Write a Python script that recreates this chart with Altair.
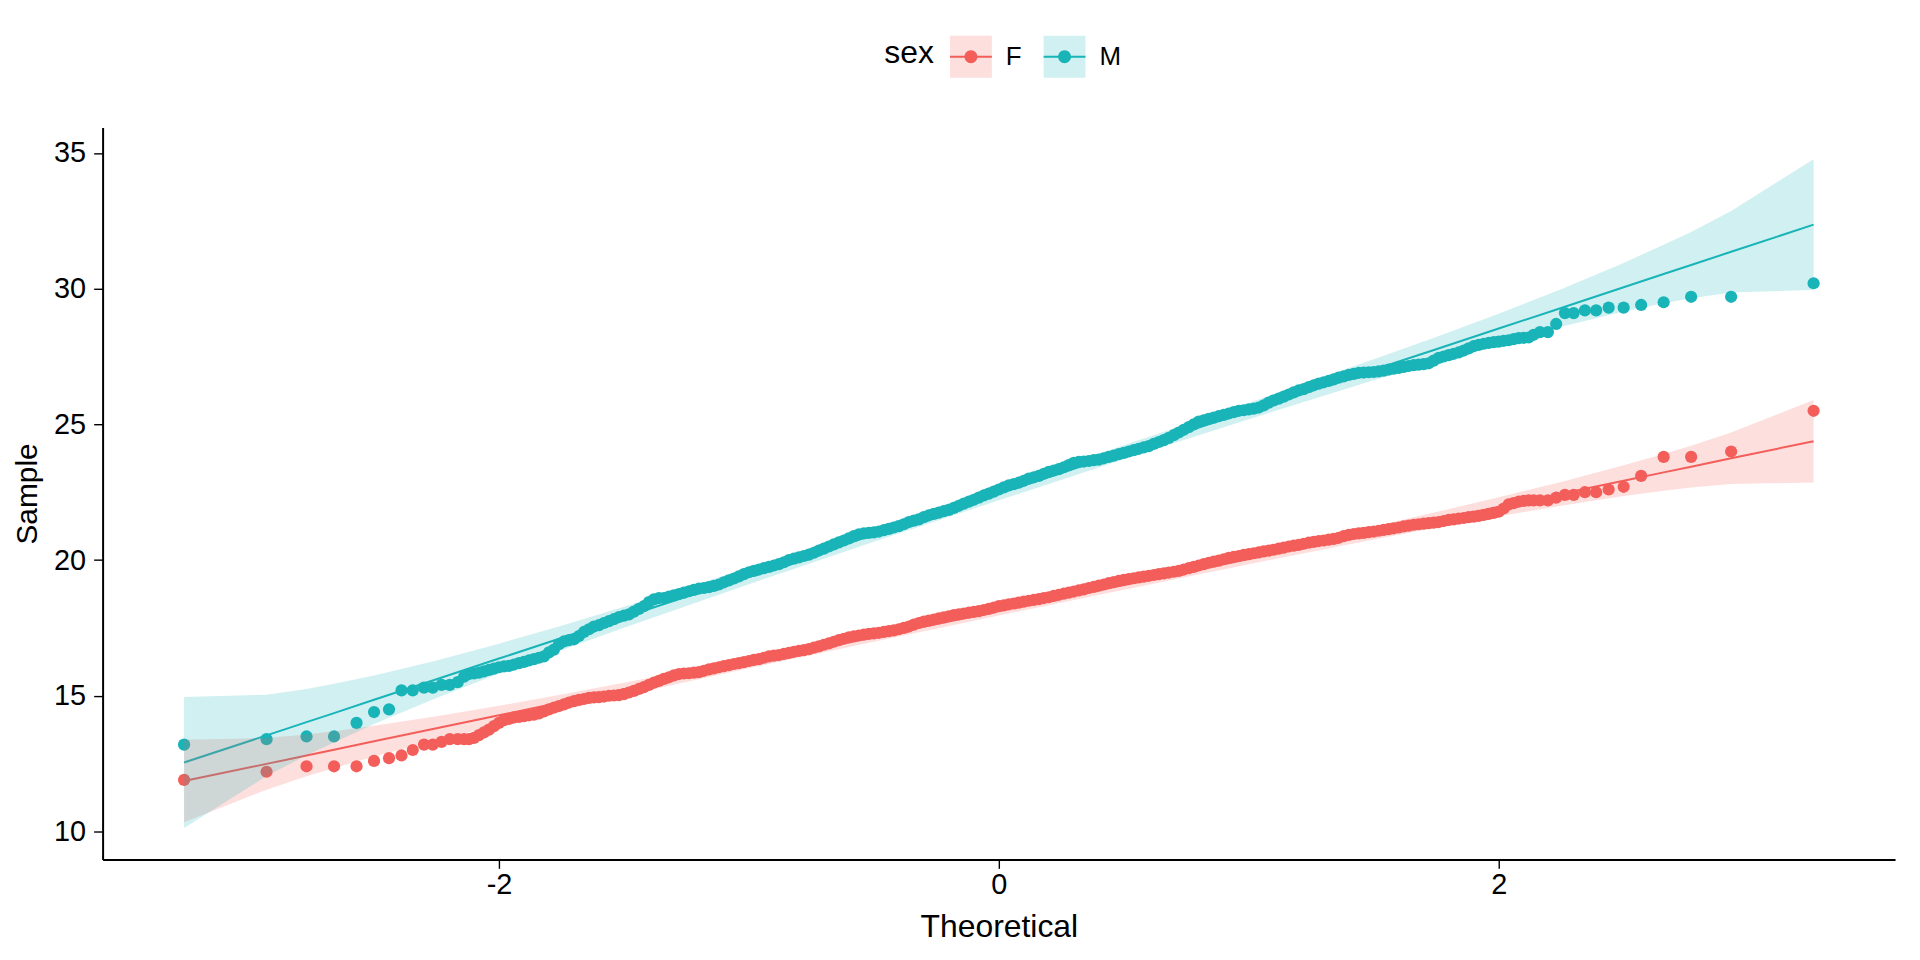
import altair as alt
import pandas as pd

# ---------------- data ----------------
SEXES = ["F", "M"]
F_COL = "#F35E5A"
M_COL = "#19B4B8"

# theoretical quantiles of the plotted points (same for both groups)
THEO_LOW = [-3.26, -2.93, -2.77, -2.66, -2.57, -2.50, -2.44, -2.39, -2.345,
            -2.30, -2.265, -2.23, -2.197, -2.165, -2.14]
THEO_MID = [
    -2.12, -2.10, -2.08, -2.06, -2.04, -2.02, -2.00, -1.98, -1.96, -1.94,
    -1.92, -1.90, -1.88, -1.86, -1.84, -1.82, -1.80, -1.78, -1.76, -1.74,
    -1.72, -1.70, -1.68, -1.66, -1.64, -1.62, -1.60, -1.58, -1.56, -1.54,
    -1.52, -1.50, -1.48, -1.46, -1.44, -1.42, -1.40, -1.38, -1.36, -1.34,
    -1.32, -1.30, -1.28, -1.26, -1.24, -1.22, -1.20, -1.18, -1.16, -1.14,
    -1.12, -1.10, -1.08, -1.06, -1.04, -1.02, -1.00, -0.98, -0.96, -0.94,
    -0.92, -0.90, -0.88, -0.86, -0.84, -0.82, -0.80, -0.78, -0.76, -0.74,
    -0.72, -0.70, -0.68, -0.66, -0.64, -0.62, -0.60, -0.58, -0.56, -0.54,
    -0.52, -0.50, -0.48, -0.46, -0.44, -0.42, -0.40, -0.38, -0.36, -0.34,
    -0.32, -0.30, -0.28, -0.26, -0.24, -0.22, -0.20, -0.18, -0.16, -0.14,
    -0.12, -0.10, -0.08, -0.06, -0.04, -0.02, 0.00, 0.02, 0.04, 0.06,
    0.08, 0.10, 0.12, 0.14, 0.16, 0.18, 0.20, 0.22, 0.24, 0.26,
    0.28, 0.30, 0.32, 0.34, 0.36, 0.38, 0.40, 0.42, 0.44, 0.46,
    0.48, 0.50, 0.52, 0.54, 0.56, 0.58, 0.60, 0.62, 0.64, 0.66,
    0.68, 0.70, 0.72, 0.74, 0.76, 0.78, 0.80, 0.82, 0.84, 0.86,
    0.88, 0.90, 0.92, 0.94, 0.96, 0.98, 1.00, 1.02, 1.04, 1.06,
    1.08, 1.10, 1.12, 1.14, 1.16, 1.18, 1.20, 1.22, 1.24, 1.26,
    1.28, 1.30, 1.32, 1.34, 1.36, 1.38, 1.40, 1.42, 1.44, 1.46,
    1.48, 1.50, 1.52, 1.54, 1.56, 1.58, 1.60, 1.62, 1.64, 1.66,
    1.68, 1.70, 1.72, 1.74, 1.76, 1.78, 1.80, 1.82, 1.84, 1.86,
    1.88, 1.90, 1.92, 1.94, 1.96, 1.98, 2.00, 2.02, 2.04, 2.06,
    2.08, 2.10, 2.12]
THEO_HIGH = [2.14, 2.165, 2.197, 2.23, 2.265, 2.30, 2.345, 2.39, 2.44,
             2.50, 2.57, 2.66, 2.77, 2.93, 3.26]

# sample values, F
F_LOW = [11.9, 12.2, 12.4, 12.4, 12.4, 12.6, 12.7, 12.8, 13.0, 13.2, 13.2,
         13.3, 13.4, 13.4, 13.4]
F_MID = [
    13.4, 13.45, 13.55, 13.65, 13.75, 13.88, 14.0, 14.1, 14.15, 14.2,
    14.22, 14.25, 14.28, 14.3, 14.35, 14.42, 14.5, 14.56, 14.62, 14.68,
    14.75, 14.8, 14.85, 14.88, 14.92, 14.94, 14.95, 14.97, 15.0, 15.01,
    15.02, 15.06, 15.12, 15.18, 15.25, 15.32, 15.4, 15.48, 15.55, 15.62,
    15.68, 15.75, 15.8, 15.82, 15.83, 15.85, 15.87, 15.92, 15.97, 16.01,
    16.05, 16.09, 16.13, 16.17, 16.2, 16.24, 16.28, 16.32, 16.35, 16.4,
    16.45, 16.48, 16.5, 16.54, 16.58, 16.62, 16.65, 16.68, 16.72, 16.77,
    16.82, 16.88, 16.93, 16.99, 17.05, 17.1, 17.15, 17.19, 17.22, 17.25,
    17.28, 17.3, 17.32, 17.35, 17.38, 17.41, 17.45, 17.5, 17.55, 17.62,
    17.68, 17.73, 17.77, 17.81, 17.85, 17.89, 17.93, 17.97, 18.0, 18.03,
    18.06, 18.09, 18.12, 18.16, 18.2, 18.25, 18.3, 18.33, 18.37, 18.4,
    18.43, 18.47, 18.5, 18.53, 18.56, 18.6, 18.63, 18.68, 18.72, 18.76,
    18.8, 18.84, 18.88, 18.92, 18.97, 19.01, 19.06, 19.1, 19.15, 19.19,
    19.23, 19.27, 19.3, 19.33, 19.36, 19.39, 19.42, 19.45, 19.48, 19.51,
    19.54, 19.57, 19.6, 19.65, 19.7, 19.75, 19.8, 19.85, 19.9, 19.94,
    19.98, 20.03, 20.08, 20.12, 20.15, 20.19, 20.22, 20.25, 20.28, 20.32,
    20.35, 20.38, 20.42, 20.46, 20.5, 20.53, 20.56, 20.6, 20.64, 20.67,
    20.7, 20.72, 20.75, 20.78, 20.82, 20.88, 20.93, 20.96, 20.98, 21.0,
    21.03, 21.05, 21.08, 21.11, 21.14, 21.17, 21.2, 21.24, 21.27, 21.3,
    21.32, 21.34, 21.36, 21.38, 21.4, 21.44, 21.48, 21.5, 21.53, 21.55,
    21.58, 21.6, 21.63, 21.66, 21.7, 21.74, 21.78, 21.9, 22.05, 22.1,
    22.15, 22.18, 22.2]
F_HIGH = [22.2, 22.2, 22.2, 22.3, 22.4, 22.4, 22.5, 22.5, 22.6, 22.7, 23.1,
          23.8, 23.8, 24.0, 25.5]

# sample values, M
M_LOW = [13.2, 13.4, 13.5, 13.5, 14.0, 14.4, 14.5, 15.2, 15.2, 15.3, 15.3,
         15.4, 15.4, 15.5, 15.7]
M_MID = [
    15.8, 15.82, 15.85, 15.9, 15.95, 16.0, 16.05, 16.08, 16.1, 16.15,
    16.2, 16.25, 16.3, 16.35, 16.4, 16.45, 16.6, 16.7, 16.9, 17.0,
    17.05, 17.08, 17.2, 17.35, 17.45, 17.55, 17.6, 17.68, 17.75, 17.82,
    17.9, 17.95, 18.0, 18.1, 18.2, 18.3, 18.45, 18.55, 18.6, 18.6,
    18.65, 18.7, 18.75, 18.8, 18.85, 18.9, 18.95, 18.97, 19.0, 19.05,
    19.1, 19.18, 19.25, 19.32, 19.4, 19.48, 19.55, 19.6, 19.65, 19.7,
    19.75, 19.8, 19.85, 19.92, 20.0, 20.05, 20.1, 20.15, 20.2, 20.27,
    20.35, 20.42, 20.5, 20.58, 20.65, 20.72, 20.8, 20.88, 20.95, 20.98,
    21.0, 21.02, 21.05, 21.1, 21.15, 21.2, 21.25, 21.32, 21.4, 21.45,
    21.5, 21.58, 21.65, 21.7, 21.75, 21.8, 21.85, 21.92, 22.0, 22.08,
    22.15, 22.22, 22.3, 22.38, 22.45, 22.52, 22.6, 22.68, 22.75, 22.8,
    22.85, 22.92, 23.0, 23.05, 23.1, 23.18, 23.25, 23.3, 23.35, 23.42,
    23.5, 23.58, 23.62, 23.63, 23.65, 23.68, 23.7, 23.75, 23.8, 23.85,
    23.9, 23.95, 24.0, 24.05, 24.1, 24.15, 24.2, 24.28, 24.35, 24.42,
    24.5, 24.6, 24.7, 24.8, 24.9, 25.0, 25.1, 25.15, 25.2, 25.25,
    25.3, 25.35, 25.4, 25.45, 25.5, 25.52, 25.55, 25.58, 25.62, 25.7,
    25.8, 25.88, 25.95, 26.02, 26.1, 26.18, 26.25, 26.3, 26.37, 26.44,
    26.5, 26.55, 26.6, 26.66, 26.72, 26.77, 26.82, 26.86, 26.9, 26.91,
    26.92, 26.93, 26.95, 26.98, 27.02, 27.05, 27.08, 27.12, 27.15, 27.18,
    27.2, 27.22, 27.25, 27.35, 27.45, 27.5, 27.55, 27.6, 27.65, 27.72,
    27.8, 27.88, 27.93, 27.97, 28.0, 28.03, 28.05, 28.08, 28.1, 28.14,
    28.18, 28.19, 28.2]
M_HIGH = [28.3, 28.4, 28.4, 28.7, 29.1, 29.1, 29.2, 29.2, 29.3, 29.3, 29.4,
          29.5, 29.7, 29.7, 30.2]

# reference line and confidence band, read at these theoretical values
BAND_X = [-3.26, -2.93, -2.77, -2.66, -2.5, -2.25, -2.0, -1.75, -1.5, -1.0,
          -0.5, 0.0, 0.5, 1.0, 1.5, 1.75, 2.0, 2.25, 2.5, 2.66, 2.77, 2.93, 3.26]
F_FIT = [11.86, 12.49, 12.80, 13.01, 13.32, 13.80, 14.28, 14.76, 15.24, 16.20,
         17.16, 18.12, 19.08, 20.04, 21.00, 21.48, 21.96, 22.44, 22.92, 23.23,
         23.44, 23.75, 24.38]
F_LO = [10.34, 11.54, 12.03, 12.33, 12.76, 13.36, 13.93, 14.47, 15.00, 16.01,
        16.99, 17.96, 18.91, 19.85, 20.76, 21.19, 21.61, 22.00, 22.36, 22.55,
        22.67, 22.80, 22.86]
F_HI = [13.38, 13.44, 13.57, 13.69, 13.89, 14.24, 14.63, 15.05, 15.48, 16.39,
        17.33, 18.28, 19.25, 20.23, 21.24, 21.77, 22.31, 22.88, 23.49, 23.91,
        24.21, 24.70, 25.90]
M_FIT = [12.54, 13.54, 14.03, 14.36, 14.85, 15.61, 16.37, 17.13, 17.89, 19.41,
         20.93, 22.45, 23.97, 25.49, 27.01, 27.77, 28.53, 29.29, 30.05, 30.54,
         30.87, 31.36, 32.36]
M_LO = [10.13, 12.04, 12.81, 13.28, 13.96, 14.92, 15.82, 16.68, 17.51, 19.11,
        20.67, 22.20, 23.71, 25.19, 26.63, 27.32, 27.98, 28.60, 29.16, 29.46,
        29.65, 29.86, 29.95]
M_HI = [14.95, 15.04, 15.25, 15.44, 15.75, 16.30, 16.92, 17.58, 18.28, 19.71,
        21.19, 22.70, 24.23, 25.79, 27.40, 28.22, 29.08, 29.98, 30.95, 31.62,
        32.09, 32.86, 34.77]

# ---------------- tables ----------------
theo = THEO_LOW + THEO_MID + THEO_HIGH
f_s = F_LOW + F_MID + F_HIGH
m_s = M_LOW + M_MID + M_HIGH
assert len(theo) == len(f_s) == len(m_s), (len(theo), len(f_s), len(m_s))
n = len(theo)

pts = pd.DataFrame({
    "sex": ["F"] * n + ["M"] * n,
    "theoretical": theo + theo,
    "sample": f_s + m_s,
})
nb = len(BAND_X)
band = pd.DataFrame({
    "sex": ["F"] * nb + ["M"] * nb,
    # separate key for the ribbon legend so it is not merged with the points one
    "sexband": ["F_"] * nb + ["M_"] * nb,
    "theoretical": BAND_X + BAND_X,
    "fit": F_FIT + M_FIT,
    "lo": F_LO + M_LO,
    "hi": F_HI + M_HI,
})

# ---------------- styling ----------------
FONT = "Liberation Sans"
COLORS = [F_COL, M_COL]

xscale = alt.Scale(domain=[-3.586, 3.586], nice=False, zero=False)
yscale = alt.Scale(domain=[8.97, 35.94], nice=False, zero=False)

axis_common = dict(
    grid=False, domainColor="black", domainWidth=2, tickColor="black",
    tickWidth=1.4, tickSize=9, labelFont=FONT, labelFontSize=29,
    labelColor="black", titleFont=FONT,
    titleFontWeight="normal", titleColor="black",
)
xaxis = alt.Axis(values=[-2, 0, 2], title="Theoretical",
                 labelExpr="'' + datum.value", labelPadding=2,
                 titlePadding=12, titleFontSize=32, **axis_common)
yaxis = alt.Axis(values=[10, 15, 20, 25, 30, 35], title="Sample",
                 labelPadding=8, titleX=-60, titleY=367.5,
                 titleFontSize=30, **axis_common)

TITLE_W = 50  # width of the legend title "sex" at 32px
leg_common = dict(
    orient="none", legendY=-92, direction="horizontal",
    titleOrient="left", titleFont=FONT, titleFontSize=32,
    titleFontWeight="normal", titleColor="black", labelFont=FONT,
    labelFontSize=26, labelColor="black", symbolSize=1764, labelOffset=14,
    columnPadding=22, titlePadding=16, symbolStrokeWidth=0, padding=0,
    labelExpr="substring(datum.label, 0, 1)",
)
LEG_X = 785
# point + line glyph, and filled square, in the unit box [-1, 1]
PT_PATH = ("M-1,-0.05L1,-0.05L1,0.05L-1,0.05Z "
           "M0.31,0A0.31,0.31 0 1,1 -0.31,0A0.31,0.31 0 1,1 0.31,0Z")
SQ_PATH = "M-1,-1L1,-1L1,1L-1,1Z"

X = alt.X("theoretical:Q", scale=xscale, axis=xaxis)

points = alt.Chart(pts).mark_circle(size=150, opacity=1).encode(
    x=X,
    y=alt.Y("sample:Q", scale=yscale, axis=yaxis),
    color=alt.Color("sex:N", scale=alt.Scale(domain=SEXES, range=COLORS),
                    legend=alt.Legend(title="sex", symbolType=PT_PATH,
                                      symbolOpacity=1, legendX=LEG_X,
                                      **leg_common)),
)

lines = alt.Chart(band).mark_line(strokeWidth=2).encode(
    x=X,
    y=alt.Y("fit:Q", scale=yscale, axis=yaxis),
    stroke=alt.Stroke("sex:N", scale=alt.Scale(domain=SEXES, range=COLORS),
                      legend=None),
)

bands = alt.Chart(band).mark_area(opacity=0.2).encode(
    x=X,
    y=alt.Y("lo:Q", scale=yscale, axis=yaxis),
    y2="hi:Q",
    fill=alt.Fill("sexband:N",
                  scale=alt.Scale(domain=["F_", "M_"], range=COLORS),
                  legend=alt.Legend(title=None, symbolType=SQ_PATH,
                                    symbolOpacity=0.2, labelOpacity=0,
                                    legendX=LEG_X + TITLE_W + 16,
                                    **leg_common)),
)

chart = alt.layer(points, lines, bands).properties(
    width=1800, height=735,
    autosize=alt.AutoSizeParams(type="none"),
    padding={"left": 95, "top": 118, "right": 17, "bottom": 85},
    background="white",
).configure_view(stroke=None)

chart.save("out.html", embed_options={"renderer": "svg", "actions": False})
